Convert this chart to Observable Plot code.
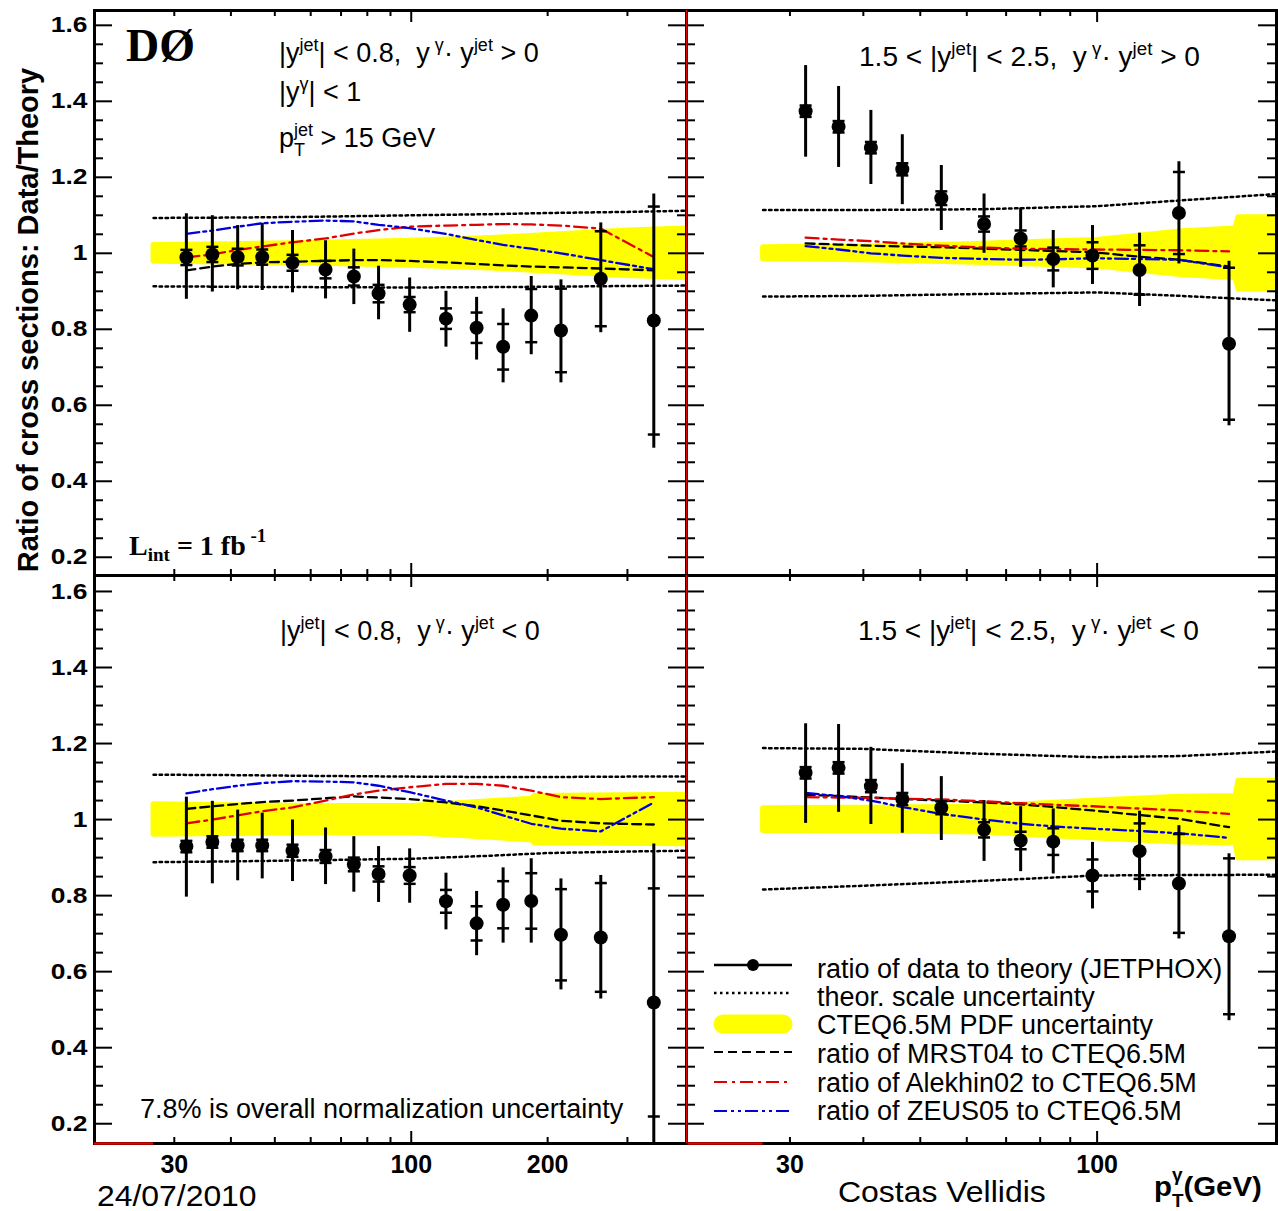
<!DOCTYPE html>
<html><head><meta charset="utf-8">
<script src="https://cdn.jsdelivr.net/npm/d3@7"></script>
<script src="https://cdn.jsdelivr.net/npm/@observablehq/plot@0.6"></script>
<style>
html,body{margin:0;padding:0;background:#fff;}
#chart{position:relative;width:1278px;height:1211px;overflow:hidden;background:#fff;}
#chart svg{position:absolute;left:0;top:0;}
</style></head><body><div id="chart"></div>
<script>
// ---------------- data ----------------
const ptLeft  = [31.9, 36.4, 41.4, 46.9, 54.7, 64.7, 74.7, 84.7, 99.2, 119.3, 139.4, 159.5, 184, 214, 262, 343];
const ptRight = [31.9, 36.3, 41.2, 46.6, 54.3, 64.2, 74.1, 84.2, 98.2, 118.1, 137.8, 167.7];

// top-left: |y_jet|<0.8, same sign
const tlRatio = [0.989,0.997,0.990,0.990,0.975,0.957,0.939,0.894,0.865,0.828,0.804,0.754,0.836,0.797,0.933,0.823];
const tlTotHi = [1.104,1.099,1.073,1.079,1.060,1.033,1.011,0.966,0.935,0.900,0.884,0.854,0.939,0.930,1.080,1.156];
const tlTotLo = [0.879,0.898,0.904,0.902,0.896,0.880,0.865,0.825,0.792,0.753,0.719,0.659,0.733,0.659,0.791,0.487];
const tlStat  = [0.020,0.020,0.022,0.020,0.021,0.023,0.024,0.023,0.020,0.027,0.040,0.060,0.070,0.110,0.125,0.300];
const tlMrst  = [0.955,0.965,0.972,0.976,0.978,0.980,0.982,0.982,0.980,0.976,0.972,0.968,0.965,0.963,0.960,0.955];
const tlAlek  = [0.989,0.997,1.009,1.018,1.029,1.039,1.052,1.061,1.070,1.073,1.075,1.077,1.076,1.073,1.065,0.990];
const tlZeus  = [1.051,1.060,1.070,1.079,1.083,1.086,1.084,1.075,1.066,1.051,1.035,1.022,1.012,1.000,0.982,0.958];
const tlScaleX  = [27, 40, 60, 100, 150, 200, 300, 405];
const tlScaleHi = [1.093,1.094,1.096,1.100,1.103,1.106,1.109,1.112];
const tlScaleLo = [0.913,0.912,0.911,0.910,0.911,0.912,0.914,0.915];
const tlBandX    = [27, 40, 60, 100, 150, 200, 300, 405];
const tlBandHalf = [0.022,0.024,0.027,0.033,0.040,0.048,0.060,0.065];

// top-right: 1.5<|y_jet|<2.5, same sign
const trRatio = [1.374,1.333,1.278,1.221,1.145,1.077,1.039,0.985,0.994,0.956,1.106,0.762];
const trTotHi = [1.494,1.439,1.376,1.312,1.231,1.156,1.119,1.060,1.073,1.053,1.241,0.979];
const trTotLo = [1.253,1.226,1.181,1.128,1.060,1.000,0.963,0.909,0.918,0.860,0.972,0.546];
const trStat  = [0.015,0.015,0.015,0.016,0.018,0.020,0.021,0.030,0.035,0.065,0.108,0.200];
const trMrst  = [1.026,1.023,1.020,1.018,1.016,1.012,1.009,1.006,1.003,0.991,0.983,0.965];
const trAlek  = [1.041,1.036,1.032,1.026,1.020,1.015,1.012,1.011,1.010,1.009,1.008,1.005];
const trZeus  = [1.019,1.010,1.000,0.994,0.988,0.985,0.983,0.984,0.987,0.985,0.983,0.963];
const trScaleX  = [27, 40, 64, 100, 138, 202];
const trScaleHi = [1.114,1.114,1.116,1.124,1.139,1.156];
const trScaleLo = [0.886,0.888,0.893,0.897,0.888,0.876];
const trBandX    = [27, 40, 60, 100, 140, 172, 174, 202];
const trBandHalf = [0.016,0.018,0.024,0.035,0.058,0.065,0.095,0.095];

// bottom-left: |y_jet|<0.8, opposite sign
const blRatio = [0.929,0.941,0.932,0.932,0.918,0.903,0.882,0.857,0.853,0.785,0.727,0.776,0.786,0.697,0.690,0.519];
const blTotHi = [1.059,1.048,1.025,1.017,0.999,0.978,0.955,0.929,0.923,0.859,0.811,0.873,0.897,0.844,0.853,0.936];
const blTotLo = [0.796,0.831,0.839,0.844,0.837,0.829,0.809,0.782,0.780,0.710,0.642,0.675,0.675,0.552,0.528,0.100];
const blStat  = [0.015,0.015,0.015,0.015,0.016,0.017,0.018,0.020,0.022,0.030,0.045,0.062,0.073,0.120,0.143,0.300];
const blMrst  = [1.028,1.035,1.041,1.046,1.050,1.056,1.061,1.058,1.054,1.045,1.035,1.024,1.011,0.997,0.990,0.987];
const blAlek  = [0.990,1.000,1.011,1.022,1.032,1.050,1.066,1.076,1.085,1.094,1.094,1.089,1.076,1.059,1.054,1.059];
const blZeus  = [1.069,1.080,1.089,1.096,1.101,1.100,1.098,1.089,1.072,1.050,1.032,1.011,0.989,0.976,0.969,1.045];
const blScaleX  = [27, 40, 60, 100, 150, 200, 300, 405];
const blScaleHi = [1.118,1.117,1.115,1.113,1.112,1.112,1.113,1.113];
const blScaleLo = [0.888,0.890,0.893,0.897,0.905,0.912,0.916,0.918];
const blBandX    = [27, 40, 60, 100, 150, 185, 187, 405];
const blBandHalf = [0.040,0.038,0.036,0.036,0.048,0.055,0.062,0.065];

// bottom-right: 1.5<|y_jet|<2.5, opposite sign
const brRatio = [1.123,1.136,1.088,1.054,1.031,0.973,0.945,0.942,0.853,0.917,0.832,0.693];
const brTotHi = [1.252,1.250,1.190,1.147,1.113,1.050,1.034,1.028,0.940,1.022,0.984,0.910];
const brTotLo = [0.990,1.019,0.987,0.964,0.945,0.890,0.863,0.857,0.765,0.813,0.686,0.471];
const brStat  = [0.015,0.015,0.016,0.016,0.017,0.020,0.023,0.035,0.042,0.073,0.130,0.205];
const brMrst  = [1.065,1.062,1.058,1.054,1.050,1.045,1.040,1.033,1.024,1.012,1.002,0.980];
const brAlek  = [1.059,1.058,1.057,1.055,1.053,1.048,1.043,1.039,1.035,1.029,1.024,1.015];
const brZeus  = [1.070,1.062,1.050,1.033,1.015,1.000,0.989,0.982,0.976,0.970,0.964,0.952];
const brScaleX  = [27, 40, 64, 100, 138, 202];
const brScaleHi = [1.188,1.186,1.173,1.164,1.167,1.179];
const brScaleLo = [0.816,0.826,0.839,0.853,0.854,0.855];
const brBandX    = [27, 40, 64, 100, 138, 172, 174, 202];
const brBandHalf = [0.030,0.031,0.034,0.050,0.060,0.062,0.102,0.102];

// axes
const yTickLabels = [0.2, 0.4, 0.6, 0.8, 1, 1.2, 1.4, 1.6];
const yMinorTicks = [0.25,0.3,0.35,0.45,0.5,0.55,0.65,0.7,0.75,0.85,0.9,0.95,1.05,1.1,1.15,1.25,1.3,1.35,1.45,1.5,1.55];
const xLabelsLeft  = [30, 100, 200];
const xLabelsRight = [30, 100];
const xMinorLeft  = [30, 40, 50, 60, 70, 80, 90, 200, 300];
const xMinorRight = [30, 40, 50, 60, 70, 80, 90];
const xMajor = [100];
const xDomainLeft = [20, 405], xDomainRight = [20, 202];
const yDomainTop = [0.152, 1.639], yDomainBottom = [0.148, 1.642];
const bandStart = 27;

const legendLabels = [
  "ratio of data to theory (JETPHOX)",
  "theor. scale uncertainty",
  "CTEQ6.5M PDF uncertainty",
  "ratio of MRST04 to CTEQ6.5M",
  "ratio of Alekhin02 to CTEQ6.5M",
  "ratio of ZEUS05 to CTEQ6.5M"
];

// ---------------- styles ----------------
const SANS = "'Liberation Sans', Arial, Helvetica, sans-serif";
const SERIF = "'Liberation Serif', 'Times New Roman', serif";
const RED = "#e00000", BLUE = "#0000dd", YEL = "#ffff00";
const DOT = "2.5,3.5", DASH = "9,5", DASHDOT = "13,5,3,5", DASHDOTDOT = "13,4,3,4,3,4";
const W = 1278, H = 1211;
const hbar = {draw(ctx, size) { const r = Math.sqrt(size / Math.PI); ctx.moveTo(-r, 0); ctx.lineTo(r, 0); }};

const chart = document.getElementById("chart");

function panel(c) {
  const pw = c.fr - c.fl, ph = c.fb - c.ft;
  const rows = c.pts.map((x, i) => ({x, y: c.ratio[i], lo: c.totLo[i], hi: c.totHi[i],
    sLo: c.ratio[i] - c.stat[i], sHi: c.ratio[i] + c.stat[i], mrst: c.mrst[i], alek: c.alek[i], zeus: c.zeus[i]}));
  const band = c.bandX.map((x, i) => ({x, b1: 1 - c.bandHalf[i], b2: 1 + c.bandHalf[i]}));
  const scl = c.scaleX.map((x, i) => ({x, hi: c.scaleHi[i], lo: c.scaleLo[i]}));
  const marks = [
    Plot.areaY(band, {x: "x", y1: "b1", y2: "b2", fill: YEL, stroke: YEL, strokeWidth: 5, clip: true}),
    Plot.lineY(scl, {x: "x", y: "hi", stroke: "#000", strokeWidth: 2.5, strokeDasharray: DOT, clip: true}),
    Plot.lineY(scl, {x: "x", y: "lo", stroke: "#000", strokeWidth: 2.5, strokeDasharray: DOT, clip: true}),
    Plot.lineY(rows, {x: "x", y: "mrst", stroke: "#000", strokeWidth: 2.3, strokeDasharray: DASH}),
    Plot.lineY(rows, {x: "x", y: "alek", stroke: RED, strokeWidth: 2.3, strokeDasharray: DASHDOT}),
    Plot.lineY(rows, {x: "x", y: "zeus", stroke: BLUE, strokeWidth: 2.3, strokeDasharray: DASHDOTDOT}),
    Plot.ruleX(rows, {x: "x", y1: "lo", y2: "hi", stroke: "#000", strokeWidth: 3, clip: true}),
    Plot.dot(rows, {x: "x", y: "sLo", symbol: hbar, r: 6, fill: "none", stroke: "#000", strokeWidth: 2.5}),
    Plot.dot(rows, {x: "x", y: "sHi", symbol: hbar, r: 6, fill: "none", stroke: "#000", strokeWidth: 2.5}),
    Plot.dot(rows, {x: "x", y: "y", r: 7, fill: "#000", stroke: "none"}),
    Plot.frame({stroke: "#000", strokeWidth: 3}),
    Plot.ruleY(yTickLabels, {y: d => d, insetRight: pw - 18, stroke: "#000", strokeWidth: 2}),
    Plot.ruleY(yTickLabels, {y: d => d, insetLeft: pw - 18, stroke: "#000", strokeWidth: 2}),
    Plot.ruleY(yMinorTicks, {y: d => d, insetRight: pw - 9, stroke: "#000", strokeWidth: 2}),
    Plot.ruleY(yMinorTicks, {y: d => d, insetLeft: pw - 9, stroke: "#000", strokeWidth: 2}),
    Plot.ruleX(c.xMinor, {x: d => d, insetTop: ph - 6, stroke: "#000", strokeWidth: 2}),
    Plot.ruleX(c.xMinor, {x: d => d, insetBottom: ph - 6, stroke: "#000", strokeWidth: 2}),
    Plot.ruleX(xMajor, {x: d => d, insetTop: ph - 12, stroke: "#000", strokeWidth: 2}),
    Plot.ruleX(xMajor, {x: d => d, insetBottom: ph - 12, stroke: "#000", strokeWidth: 2}),
    Plot.ruleY([c.yDomain[0]], {x1: c.xDomain[0], x2: bandStart, stroke: RED, strokeWidth: 2.5})
  ];
  if (c.redRight) marks.push(Plot.ruleX([c.xDomain[1]], {stroke: RED, strokeWidth: 1.6}));
  if (c.yLabels) marks.push(Plot.axisY(yTickLabels, {anchor: "left", tickSize: 0, tickPadding: 7, label: null,
    tickFormat: d => String(d), fontSize: 22, fontWeight: "bold"}));
  if (c.xLabels) marks.push(Plot.axisX(c.xLabels, {anchor: "bottom", tickSize: 0, tickPadding: 12, label: null,
    tickFormat: d => String(d), fontSize: 25, fontWeight: "bold"}));
  const svg = Plot.plot({
    width: W, height: H,
    marginLeft: c.fl, marginRight: W - c.fr, marginTop: c.ft, marginBottom: H - c.fb,
    x: {type: "log", domain: c.xDomain, label: null, ...(c.xLabels ? {} : {axis: null})},
    y: {domain: c.yDomain, label: null, ...(c.yLabels ? {} : {axis: null})},
    style: {background: "transparent", fontFamily: SANS, color: "#000", overflow: "visible"},
    marks
  });
  // stretch y tick labels horizontally (as in the reference rendering)
  svg.querySelectorAll('[aria-label="y-axis tick label"] text').forEach(t => {
    const tr = t.getAttribute("transform");
    if (tr) t.setAttribute("transform", tr + " scale(1.2,1)");
    else {
      const x = +(t.getAttribute("x") || 0), y = +(t.getAttribute("y") || 0);
      t.removeAttribute("x"); t.removeAttribute("y");
      t.setAttribute("transform", `translate(${x},${y}) scale(1.2,1)`);
    }
  });
  chart.appendChild(svg);
}

// right panels first, so the red line of the left panels stays on top
panel({fl: 686, fr: 1276, ft: 10, fb: 575, xDomain: xDomainRight, yDomain: yDomainTop, pts: ptRight,
  ratio: trRatio, totLo: trTotLo, totHi: trTotHi, stat: trStat, mrst: trMrst, alek: trAlek, zeus: trZeus,
  scaleX: trScaleX, scaleHi: trScaleHi, scaleLo: trScaleLo, bandX: trBandX, bandHalf: trBandHalf,
  xMinor: xMinorRight});
panel({fl: 686, fr: 1276, ft: 575, fb: 1143, xDomain: xDomainRight, yDomain: yDomainBottom, pts: ptRight,
  ratio: brRatio, totLo: brTotLo, totHi: brTotHi, stat: brStat, mrst: brMrst, alek: brAlek, zeus: brZeus,
  scaleX: brScaleX, scaleHi: brScaleHi, scaleLo: brScaleLo, bandX: brBandX, bandHalf: brBandHalf,
  xMinor: xMinorRight, xLabels: xLabelsRight});
panel({fl: 94, fr: 686, ft: 10, fb: 575, xDomain: xDomainLeft, yDomain: yDomainTop, pts: ptLeft,
  ratio: tlRatio, totLo: tlTotLo, totHi: tlTotHi, stat: tlStat, mrst: tlMrst, alek: tlAlek, zeus: tlZeus,
  scaleX: tlScaleX, scaleHi: tlScaleHi, scaleLo: tlScaleLo, bandX: tlBandX, bandHalf: tlBandHalf,
  xMinor: xMinorLeft, yLabels: true, redRight: true});
panel({fl: 94, fr: 686, ft: 575, fb: 1143, xDomain: xDomainLeft, yDomain: yDomainBottom, pts: ptLeft,
  ratio: blRatio, totLo: blTotLo, totHi: blTotHi, stat: blStat, mrst: blMrst, alek: blAlek, zeus: blZeus,
  scaleX: blScaleX, scaleHi: blScaleHi, scaleLo: blScaleLo, bandX: blBandX, bandHalf: blBandHalf,
  xMinor: xMinorLeft, yLabels: true, xLabels: xLabelsLeft, redRight: true});

// ---------------- annotation overlay ----------------
const ov = d3.select(chart).append("svg").attr("width", W).attr("height", H)
  .style("pointer-events", "none").style("overflow", "visible");

function rich(x, y, parts, o) {
  const size = o.size, small = o.small || Math.round(size * 0.64);
  const g = ov.append("g").attr("transform", `translate(${x},${y}) scale(${o.sx || 1},1)`)
    .attr("font-family", o.family || SANS).attr("font-weight", o.weight || "normal").attr("fill", "#000");
  let cx = 0, stackW = 0;
  for (const p of parts) {
    const s = typeof p === "string" ? {t: p} : p;
    const fs = (s.sup || s.sub) ? small : size;
    const dy = s.sup ? -(o.supShift || size * 0.42) : s.sub ? (o.subShift || size * 0.3) : 0;
    const t = g.append("text").attr("x", cx).attr("y", dy).attr("font-size", fs)
      .style("white-space", "pre").text(s.t);
    const w = t.node().getComputedTextLength();
    if (s.stack) stackW = w;
    else { cx += Math.max(w, stackW); stackW = 0; }
  }
  return g;
}

function centralLine(x, y, sign) {
  rich(x, y, ["|y", {t: "jet", sup: 1}, "| < 0.8,  y", {t: " \u03b3", sup: 1}, "\u00b7 y", {t: "jet", sup: 1}, sign], {size: 27, small: 18});
}
function forwardLine(x, y, sign) {
  rich(x, y, ["1.5 < |y", {t: "jet", sup: 1}, "| < 2.5,  y", {t: " \u03b3", sup: 1}, "\u00b7 y", {t: "jet", sup: 1}, sign], {size: 27, small: 18, sx: 1.04});
}
rich(126, 61, ["D\u00d8"], {size: 46, family: SERIF, weight: "bold"});
centralLine(279, 62, " > 0");
rich(279, 101, ["|y", {t: "\u03b3", sup: 1}, "| < 1"], {size: 27, small: 18});
rich(279, 147, ["p", {t: "T", sub: 1, stack: 1}, {t: "jet", sup: 1}, " > 15 GeV"], {size: 27, small: 18, subShift: 9});
rich(129, 555, ["L", {t: "int", sub: 1}, " = 1 fb", {t: " -1", sup: 1}], {size: 28, small: 19, family: SERIF, weight: "bold", subShift: 6, supShift: 13});
forwardLine(859, 66, " > 0");
centralLine(280, 640, " < 0");
forwardLine(858, 640, " < 0");
rich(140, 1118, ["7.8% is overall normalization uncertainty"], {size: 27});

// axis titles and footer
ov.append("text").attr("transform", "translate(38,320) rotate(-90)").attr("text-anchor", "middle")
  .attr("font-family", SANS).attr("font-weight", "bold").attr("font-size", 29).text("Ratio of cross sections: Data/Theory");
rich(1154, 1196, ["p", {t: "T", sub: 1, stack: 1}, {t: "\u03b3", sup: 1}, "(GeV)"], {size: 28, small: 18, weight: "bold", subShift: 11, supShift: 15, sx: 1.05});
rich(97, 1206, ["24/07/2010"], {size: 29, sx: 1.1});
rich(838, 1202, ["Costas Vellidis"], {size: 30, sx: 1.065});

// ---------------- legend ----------------
const legY = [965, 993, 1024, 1052, 1082, 1111];
const legBase = [978, 1006, 1034, 1063, 1092, 1120];
const lx1 = 714, lx2 = 792;
ov.append("line").attr("x1", lx1).attr("x2", lx2).attr("y1", legY[0]).attr("y2", legY[0]).attr("stroke", "#000").attr("stroke-width", 2.5);
ov.append("circle").attr("cx", (lx1 + lx2) / 2).attr("cy", legY[0]).attr("r", 6).attr("fill", "#000");
ov.append("line").attr("x1", lx1).attr("x2", lx2).attr("y1", legY[1]).attr("y2", legY[1]).attr("stroke", "#000").attr("stroke-width", 2.5).attr("stroke-dasharray", DOT);
ov.append("line").attr("x1", lx1 + 9).attr("x2", lx2 - 9).attr("y1", legY[2]).attr("y2", legY[2]).attr("stroke", YEL).attr("stroke-width", 19).attr("stroke-linecap", "round");
ov.append("line").attr("x1", lx1).attr("x2", lx2).attr("y1", legY[3]).attr("y2", legY[3]).attr("stroke", "#000").attr("stroke-width", 2.2).attr("stroke-dasharray", DASH);
ov.append("line").attr("x1", lx1).attr("x2", lx2).attr("y1", legY[4]).attr("y2", legY[4]).attr("stroke", RED).attr("stroke-width", 2.2).attr("stroke-dasharray", DASHDOT);
ov.append("line").attr("x1", lx1).attr("x2", lx2).attr("y1", legY[5]).attr("y2", legY[5]).attr("stroke", BLUE).attr("stroke-width", 2.2).attr("stroke-dasharray", DASHDOTDOT);
legendLabels.forEach((s, i) => rich(817, legBase[i], [s], {size: 27}));
</script></body></html>
